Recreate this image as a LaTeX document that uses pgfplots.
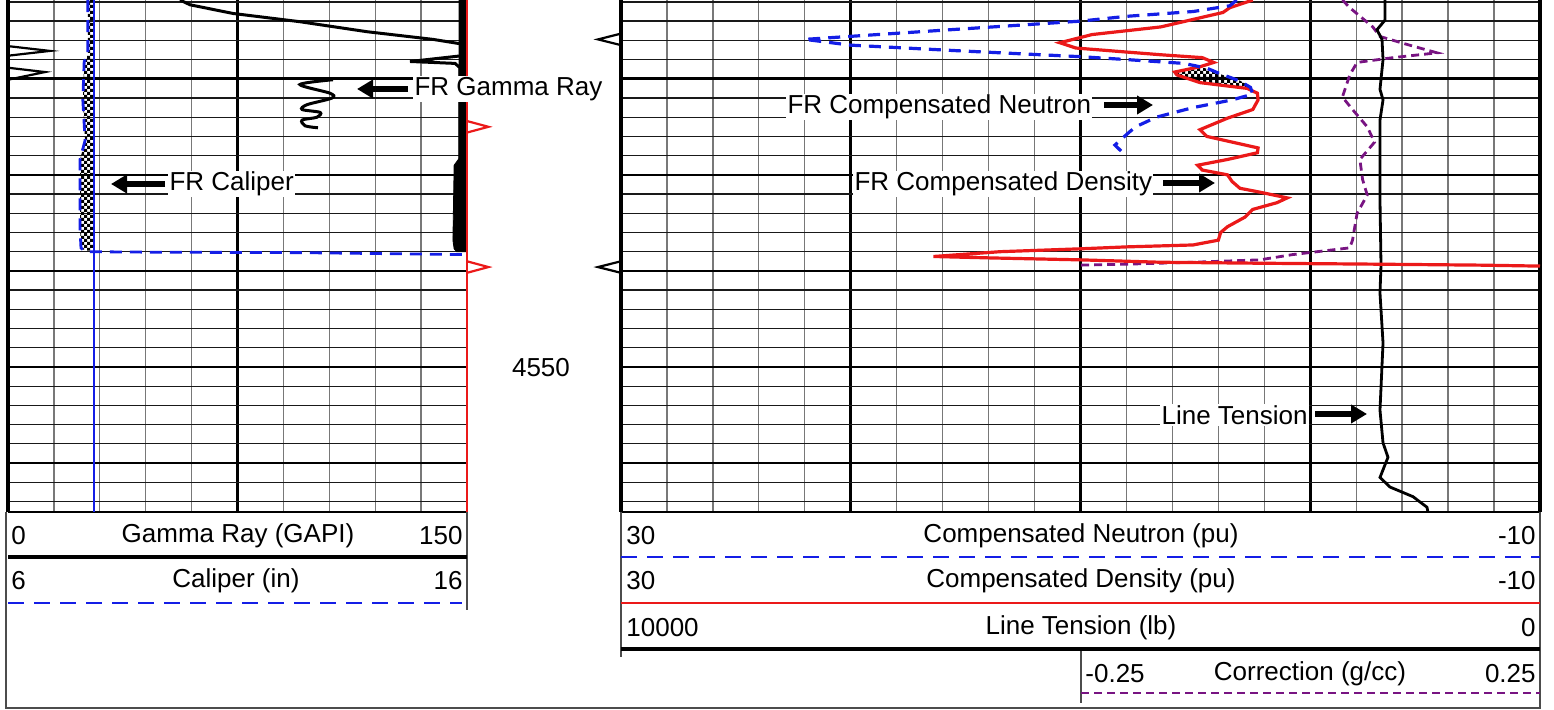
\documentclass[border=0pt]{standalone}
\usepackage{pgfplots}
\pgfplotsset{compat=1.18}
\usepackage{fontspec}
\setmainfont{Liberation Sans}
\usetikzlibrary{arrows.meta,patterns}

\definecolor{logblue}{RGB}{20,30,230}
\definecolor{logred}{RGB}{235,25,25}
\definecolor{logpurple}{RGB}{120,20,130}
\definecolor{gridgray}{RGB}{120,120,120}

\pgfdeclarepatternformonly{finechecker}{\pgfqpoint{-.05pt}{-.05pt}}{\pgfqpoint{3.05pt}{3.05pt}}{\pgfqpoint{3pt}{3pt}}{%
  \pgfpathrectangle{\pgfpointorigin}{\pgfqpoint{1.5pt}{1.5pt}}%
  \pgfpathrectangle{\pgfqpoint{1.5pt}{1.5pt}}{\pgfqpoint{1.5pt}{1.5pt}}%
  \pgfusepath{fill}}

\pgfplotsset{
  track/.style={
    scale only axis, height=256pt, anchor=north west, clip=false,
    y dir=reverse, ymin=4511.8, ymax=4565.1,
    ytick={4520,4530,...,4560}, minor ytick={4512,4514,...,4564},
    grid=both,
    major grid style={black, line width=1.3pt},
    minor grid style={black!90, line width=0.65pt},
    minor x grid style={gridgray, line width=0.65pt},
    xticklabel=\empty, yticklabel=\empty,
    major tick length=0pt, minor tick length=0pt, tick style={draw=none},
    axis line style={draw=none},
  },
}

\begin{document}
\begin{tikzpicture}
\fontsize{13}{15}\selectfont
\useasboundingbox (0pt,0pt) rectangle (777pt,-355pt);

% ---------------- left track: gamma ray and caliper
\begin{axis}[track, at={(4pt,0pt)}, width=229.5pt,
  xmin=0, xmax=150, xtick={75}, minor xtick={15,30,...,135}]
\draw[black, line width=1.8pt] (axis cs:0,4511.8) -- (axis cs:0,4565.1);
\draw[black, line width=0.6pt] (axis cs:0,4565.1) -- (axis cs:150,4565.1);

% caliper fill against bit size
\addplot[pattern=finechecker, draw=none] table[x expr=(\thisrow{cal}-6)*15, y=d] {
cal d
7.74 4511.8
7.74 4517.5
7.66 4518.2
7.63 4522.2
7.68 4526.4
7.57 4528.4
7.57 4535.7
7.59 4537.6
7.68 4537.9
7.875 4537.9
7.875 4511.8
};
% bit size
\addplot[logblue, line width=1pt] table[x expr=(\thisrow{cal}-6)*15, y=d] {
cal d
7.875 4511.8
7.875 4565.1
};
% caliper
\addplot[logblue, line width=1.4pt, dash pattern=on 6pt off 4pt] table[x expr=(\thisrow{cal}-6)*15, y=d] {
cal d
7.74 4511.8
7.74 4517.5
7.66 4518.2
7.63 4522.2
7.68 4526.4
7.57 4528.4
7.57 4535.7
7.59 4537.6
7.68 4538.0
9.1 4538.05
12.4 4538.1
15.9 4538.3
};

% gamma ray
\addplot[black, fill=black, line width=0.4pt] coordinates {
(147.4,4511.8) (147.4,4528.3) (145.8,4529.0) (145.4,4536.8)
(145.8,4537.7) (146.6,4538.0) (149.6,4538.0) (149.6,4511.8)};
\addplot[black, line width=1.5pt] coordinates {
(56.2,4511.8) (59.5,4512.3) (73.5,4513.2) (95.4,4514.06) (117.3,4515.1)
(138.9,4515.9) (147.7,4516.35) (148.4,4516.7) (148.4,4517.6) (131.4,4518.2)
(146.1,4518.4) (147.7,4518.85) (147.7,4528.4)};
\addplot[black, line width=1.1pt] coordinates {(0,4516.6) (13.7,4517.1) (0,4517.6)};
\addplot[black, line width=1.1pt] coordinates {(0,4518.85) (12.1,4519.3) (0,4520.1)};
\addplot[black, line width=1.5pt, smooth, tension=0.5] coordinates {
(106.2,4520.1) (95.4,4520.6) (105.2,4521.5) (105.9,4522.0) (97.7,4522.7)
(96.1,4523.2) (102.0,4523.5) (101.0,4524.0) (96.1,4524.3) (97.1,4524.9) (101.3,4525.1)};

\draw[logred, line width=1.2pt] (axis cs:150,4511.8) -- (axis cs:150,4565.1);
% depth markers
\addplot[logred, line width=1.1pt] coordinates {(150,4524.4) (157,4525.0) (150,4525.6)};
\addplot[logred, line width=1.1pt] coordinates {(150,4539.0) (157,4539.6) (150,4540.2)};
\end{axis}

% ---------------- right track: porosity, tension, correction
\begin{axis}[track, at={(310.5pt,0pt)}, width=459.5pt,
  x dir=reverse, xmin=-10, xmax=30, xtick={0,10,20}, minor xtick={-8,-6,...,28}]
\draw[black, line width=1.8pt] (axis cs:30,4511.8) -- (axis cs:30,4565.1);
\draw[black, line width=1.8pt] (axis cs:-10,4511.8) -- (axis cs:-10,4565.1);
\draw[black, line width=0.6pt] (axis cs:30,4565.1) -- (axis cs:-10,4565.1);

% crossover fill
\addplot[pattern=finechecker, draw=none] coordinates {
(5.89,4519.3) (4.80,4518.85) (4.36,4518.96) (4.06,4519.4) (3.06,4520.2)
(2.62,4520.8) (2.75,4521.0) (4.80,4520.4) (5.89,4519.6)};

% correction
\addplot[logpurple, line width=1.4pt, dash pattern=on 4pt off 2.5pt] table[x expr=-40*\thisrow{c}, y=d] {
c d
0.035 4511.8
0.043 4512.6
0.068 4514.6
0.076 4515.6
0.108 4516.5
0.138 4517.3
0.090 4517.8
0.051 4518.3
0.043 4519.6
0.035 4521.9
0.046 4523.2
0.062 4525.0
0.070 4526.6
0.054 4528.4
0.057 4530.5
0.062 4532.1
0.051 4534.0
0.046 4536.8
0.043 4537.6
-0.019 4538.3
-0.055 4538.85
-0.128 4539.1
-0.200 4539.3
-0.250 4539.4
};

% line tension
\addplot[black, line width=1.4pt] table[x expr=\thisrow{t}/250-10, y=d] {
t d
1687 4511.8
1687 4513.9
1774 4514.9
1719 4515.9
1708 4518.0
1741 4521.1
1708 4522.2
1741 4524.3
1741 4532.6
1730 4539.4
1741 4542.3
1708 4547.5
1741 4554.5
1708 4557.9
1654 4559.4
1741 4561.5
1632 4562.5
1382 4563.5
1230 4564.6
1219 4565.1
};

% compensated density
\addplot[logred, line width=1.6pt] table[x=v, y=d] {
v d
2.5 4511.8
3.5 4512.6
3.8 4513.1
6.5 4514.6
9.5 4515.4
10.9 4516.25
10.2 4516.8
6.5 4517.5
4.7 4517.8
4.2 4518.3
4.8 4518.75
5.9 4519.3
5.8 4519.6
4.8 4520.4
2.75 4521.0
2.3 4521.5
2.27 4522.2
2.5 4523.2
3.6 4524.1
4.8 4525.3
4.5 4526.0
3.2 4526.7
2.27 4527.2
2.3 4527.7
3.6 4528.4
4.9 4529.0
4.7 4529.5
3.6 4530.0
3.4 4530.7
3.06 4531.4
2.2 4531.8
1.0 4532.4
1.45 4532.9
2.5 4533.6
2.84 4534.4
3.6 4535.4
3.9 4536.0
4.0 4536.8
5.1 4537.3
8.0 4537.5
10.0 4537.7
13.5 4538.0
16.4 4538.5
13.9 4538.65
10.0 4538.85
6.5 4539.1
2.2 4539.2
-2.9 4539.3
-7.4 4539.4
-10 4539.5
};

% compensated neutron
\addplot[logblue, line width=1.6pt, dash pattern=on 6pt off 4pt] table[x=v, y=d] {
v d
3.2 4511.8
3.5 4512.4
5.1 4513.0
8.0 4513.5
10.0 4514.0
15.7 4514.9
22.0 4515.9
20.0 4516.5
15.2 4517.1
10.0 4517.7
8.0 4518.0
5.5 4518.4
4.5 4518.9
3.9 4519.5
3.1 4520.2
2.6 4520.9
2.5 4521.6
3.4 4522.2
5.1 4523.0
6.7 4524.0
7.6 4525.0
7.9 4525.6
8.5 4526.9
8.2 4527.6
};

% depth markers
\addplot[black, line width=1.1pt] coordinates {(30,4515.3) (31,4515.9) (30,4516.5)};
\addplot[black, line width=1.1pt] coordinates {(30,4539.0) (31,4539.6) (30,4540.2)};
\end{axis}

% ---------------- annotations and header
\begin{scope}[x=0.5pt,y=-0.5pt]
\tikzset{lbl/.style={fill=white, inner sep=0.6pt, anchor=west},
  arr/.style={line width=2.6pt, -{Triangle[length=8pt,width=9pt]}}}
\node[lbl] at (413,89) {FR Gamma Ray};
\draw[arr] (408,89) -- (357,89);
\node[lbl] at (168,184) {FR Caliper};
\draw[arr] (165,184) -- (111,184);
\node[lbl] at (786,107) {FR Compensated Neutron};
\draw[arr] (1104,105) -- (1153,105);
\node[lbl] at (853,184) {FR Compensated Density};
\draw[arr] (1163,183) -- (1215,183);
\node[lbl] at (1160,415) {Line Tension};
\draw[arr] (1315,414) -- (1367,414);
\node at (541,368) {4550};

% header frame
\draw[black!70, line width=0.7pt] (6,512) -- (6,708) -- (1540,708) -- (1540,512);
\draw[black!70, line width=0.7pt] (467,512) -- (467,610);
\draw[black!70, line width=0.7pt] (621,512) -- (621,657);
\draw[black!70, line width=0.7pt] (1081,649) -- (1081,703);

\tikzset{hl/.style={inner sep=0pt, anchor=west}, hc/.style={inner sep=0pt},
  hr/.style={inner sep=0pt, anchor=east}}
% left header
\node[hl] at (11,536) {0};
\node[hc] at (238,536) {Gamma Ray (GAPI)};
\node[hr] at (463,536) {150};
\draw[black, line width=1.6pt] (8,557) -- (467,557);
\node[hl] at (11,581) {6};
\node[hc] at (236,581) {Caliper (in)};
\node[hr] at (463,581) {16};
\draw[logblue, line width=1.4pt, dash pattern=on 8pt off 5pt] (8,603) -- (462,603);
% right header
\node[hl] at (626,536) {30};
\node[hc] at (1081,536) {Compensated Neutron (pu)};
\node[hr] at (1536,536) {-10};
\draw[logblue, line width=1.4pt, dash pattern=on 8pt off 5pt] (621,557) -- (1540,557);
\node[hl] at (626,581) {30};
\node[hc] at (1081,581) {Compensated Density (pu)};
\node[hr] at (1536,581) {-10};
\draw[logred, line width=1.4pt] (621,603) -- (1540,603);
\node[hl] at (626,628) {10000};
\node[hc] at (1081,628) {Line Tension (lb)};
\node[hr] at (1536,628) {0};
\draw[black, line width=1.6pt] (621,649) -- (1540,649);
\node[hl] at (1085,674) {-0.25};
\node[hc] at (1310,674) {Correction (g/cc)};
\node[hr] at (1536,674) {0.25};
\draw[logpurple, line width=1.3pt, dash pattern=on 4pt off 2.5pt] (1081,693) -- (1540,693);
\end{scope}
\end{tikzpicture}
\end{document}
